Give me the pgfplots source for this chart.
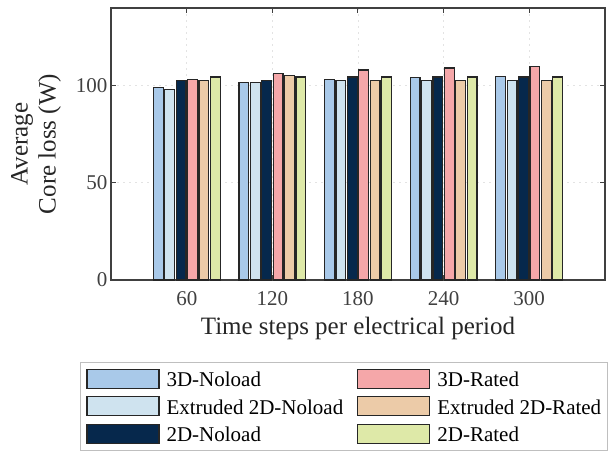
\documentclass[border=0pt]{standalone}
\usepackage{fontspec}
\setmainfont{Liberation Serif}
\usepackage{pgfplots}
\pgfplotsset{compat=1.18}
\definecolor{cA}{RGB}{169,201,233}
\definecolor{cB}{RGB}{207,227,239}
\definecolor{cC}{RGB}{6,40,76}
\definecolor{cD}{RGB}{245,167,169}
\definecolor{cE}{RGB}{236,203,168}
\definecolor{cF}{RGB}{222,233,168}
\definecolor{axgray}{RGB}{64,64,64}

\begin{document}
\begin{tikzpicture}
\useasboundingbox (-111pt,-171pt) rectangle (497pt,280pt);
\begin{axis}[
  at={(0pt,0pt)}, anchor=south west,
  scale only axis, width=494pt, height=272pt,
  xmin=0.114, xmax=5.886, ymin=0, ymax=140,
  xtick={1,2,3,4,5}, xticklabels={60,120,180,240,300},
  ytick={0,50,100},
  axis line style={axgray, line width=1.1pt},
  tick style={axgray, line width=1pt},
  major tick length=5pt,
  tick align=inside,
  grid=major,
  major grid style={gray!22, line width=0.8pt, dash pattern=on 2pt off 4pt},
  ticklabel style={font=\fontsize{21}{21}\selectfont, text=axgray},
  /pgf/number format/assume math mode=true,
  xticklabel style={yshift=-8pt},
  xlabel={Time steps per electrical period},
  ylabel={Average\\Core loss (W)},
  label style={font=\fontsize{25}{28}\selectfont, text=black!85},
  xlabel style={at={(axis description cs:0.5,-0.178)}, anchor=center},
  ylabel style={at={(axis description cs:-0.152,0.5)}, anchor=center, align=center},
  legend columns=2,
  legend cell align=left,
  legend style={at={(axis description cs:-0.0628,-0.3015)}, anchor=north west,
    draw=gray!50, line width=1pt, inner sep=6pt,
    font=\fontsize{21}{21}\selectfont,
    nodes={inner sep=0pt, text height=16.5pt, text depth=2.5pt},
    row sep=7.5pt,
    /tikz/every odd column/.append style={column sep=7pt},
    /tikz/every even column/.append style={column sep=14pt}},
  legend image code/.code={\draw[#1] (0pt,-8.8pt) rectangle (72pt,10.2pt);},
  every axis plot/.append style={ybar, bar width=9.8pt, draw=black!85, line width=1.1pt, forget plot},
]
% 3D-Noload
\addplot[fill=cA, bar shift=-28.5pt] coordinates {(1,99.1) (2,101.7) (3,103.1) (4,104.0) (5,104.8)};
% Extruded 2D-Noload
\addplot[fill=cB, bar shift=-17.1pt] coordinates {(1,97.9) (2,101.5) (3,102.9) (4,102.9) (5,102.9)};
% 2D-Noload
\addplot[fill=cC, bar shift=-5.7pt] coordinates {(1,102.7) (2,102.7) (3,104.5) (4,104.5) (5,104.5)};
% 3D-Rated
\addplot[fill=cD, bar shift=5.7pt] coordinates {(1,103.4) (2,106.4) (3,108.1) (4,109.1) (5,110.0)};
% Extruded 2D-Rated
\addplot[fill=cE, bar shift=17.1pt] coordinates {(1,102.9) (2,105.2) (3,102.9) (4,102.9) (5,102.9)};
% 2D-Rated
\addplot[fill=cF, bar shift=28.5pt] coordinates {(1,104.5) (2,104.5) (3,104.5) (4,104.5) (5,104.5)};

\addlegendimage{fill=cA, draw=black!85, line width=1.1pt}
\addlegendentry{3D-Noload}
\addlegendimage{fill=cD, draw=black!85, line width=1.1pt}
\addlegendentry{3D-Rated}
\addlegendimage{fill=cB, draw=black!85, line width=1.1pt}
\addlegendentry{Extruded 2D-Noload}
\addlegendimage{fill=cE, draw=black!85, line width=1.1pt}
\addlegendentry{Extruded 2D-Rated}
\addlegendimage{fill=cC, draw=black!85, line width=1.1pt}
\addlegendentry{2D-Noload}
\addlegendimage{fill=cF, draw=black!85, line width=1.1pt}
\addlegendentry{2D-Rated}
\end{axis}
\end{tikzpicture}
\end{document}
